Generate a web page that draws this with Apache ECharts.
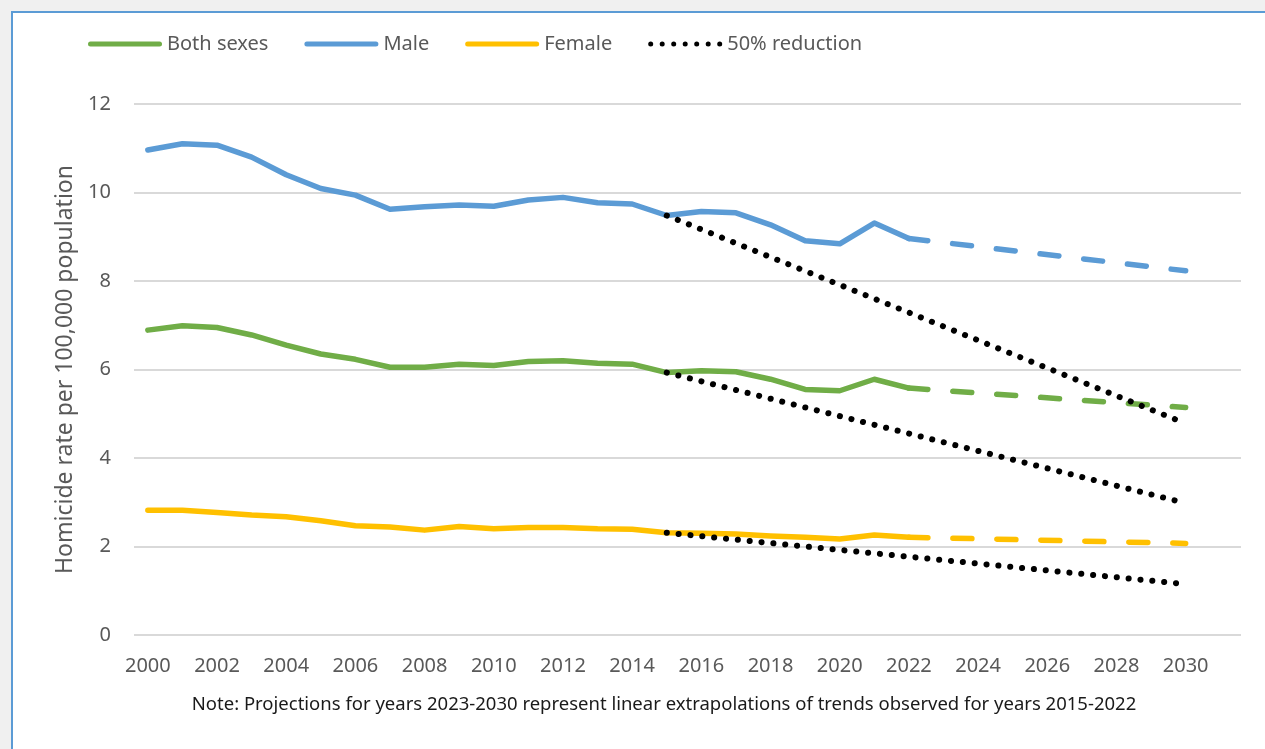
<!DOCTYPE html>
<html>
<head>
<meta charset="utf-8">
<script src="https://cdn.jsdelivr.net/npm/echarts@6/dist/echarts.min.js"></script>
<style>
  html, body { margin: 0; padding: 0; background: #f0f0f0; }
  #chart { width: 1265px; height: 749px; }
</style>
</head>
<body>
<div id="chart"></div>
<script>
// observed years and rates (per 100,000)
let years = [2000, 2001, 2002, 2003, 2004, 2005, 2006, 2007, 2008, 2009, 2010, 2011,
  2012, 2013, 2014, 2015, 2016, 2017, 2018, 2019, 2020, 2021, 2022]
let bothSexes = [6.89, 6.99, 6.95, 6.78, 6.55, 6.35, 6.23, 6.05, 6.05, 6.12, 6.09, 6.18,
  6.20, 6.14, 6.12, 5.93, 5.97, 5.95, 5.78, 5.55, 5.52, 5.78, 5.58]
let male = [10.96, 11.10, 11.07, 10.80, 10.40, 10.09, 9.94, 9.62, 9.68, 9.72, 9.69, 9.83,
  9.89, 9.77, 9.74, 9.48, 9.57, 9.54, 9.27, 8.91, 8.84, 9.31, 8.96]
let female = [2.82, 2.82, 2.77, 2.71, 2.67, 2.58, 2.47, 2.44, 2.37, 2.45, 2.40, 2.43,
  2.43, 2.40, 2.39, 2.31, 2.30, 2.28, 2.24, 2.21, 2.17, 2.26, 2.21]

// projections (linear extrapolation 2022 -> 2030)
let projYears = [2022, 2030]
let bothProj = [5.58, 5.14]
let maleProj = [8.96, 8.23]
let femaleProj = [2.21, 2.07]

// 50% reduction targets (2015 -> 2030)
let targetYears = [2015, 2030]
let bothTarget = [5.93, 2.98]
let maleTarget = [9.48, 4.78]
let femaleTarget = [2.31, 1.15]

let tickYears = [2000, 2002, 2004, 2006, 2008, 2010, 2012, 2014, 2016, 2018, 2020, 2022,
  2024, 2026, 2028, 2030]
let yTicks = { min: 0, max: 12, interval: 2 }

let green = '#70AD47'
let blue = '#5B9BD5'
let yellow = '#FFC000'
let font = 'Noto Sans'
let textColor = '#595959'

// legend icons: rounded bar and a row of 7 dots (74 x 5 box)
let barIcon = 'path://M2.5,0 L71.5,0 A2.5,2.5 0 0,1 71.5,5 L2.5,5 A2.5,2.5 0 0,1 2.5,0 Z'
let dotIcon = 'path://' + [0, 1, 2, 3, 4, 5, 6].map(function (k) {
  let cx = 2.5 + k * 11.5
  return 'M' + (cx - 2.5) + ',2.5 A2.5,2.5 0 1,0 ' + (cx + 2.5) + ',2.5 A2.5,2.5 0 1,0 ' + (cx - 2.5) + ',2.5 Z'
}).join(' ')

function pairs (xs, ys) {
  return xs.map(function (x, i) { return [x, ys[i]] })
}

function solid (name, color, xs, ys) {
  return {
    name: name, type: 'line', data: pairs(xs, ys), showSymbol: false, symbol: 'none',
    lineStyle: { color: color, width: 5.5, cap: 'round', join: 'round' },
    itemStyle: { color: color }, silent: true
  }
}

function dashed (name, color, xs, ys) {
  let s = solid(name, color, xs, ys)
  s.lineStyle.type = [19, 25]
  return s
}

function dotted (xs, ys) {
  let s = solid('50% reduction', '#000', xs, ys)
  s.lineStyle.type = [0.1, 11.8]
  s.lineStyle.width = 6
  s.z = 5
  return s
}

let chart = echarts.init(document.getElementById('chart'))
chart.setOption({
  backgroundColor: '#f0f0f0',
  animation: false,
  textStyle: { fontFamily: font },
  graphic: [
    {
      type: 'rect', z: -10, silent: true,
      shape: { x: 12, y: 12, width: 1300, height: 800 },
      style: { fill: '#fff', stroke: blue, lineWidth: 2 }
    },
    {
      type: 'text', x: 664, y: 705, silent: true,
      style: {
        text: 'Note: Projections for years 2023-2030 represent linear extrapolations of trends observed for years 2015-2022',
        fill: '#1a1a1a', font: '18.5px "Noto Sans"', align: 'center', verticalAlign: 'middle'
      }
    }
  ],
  legend: {
    left: 83, top: 29,
    itemWidth: 74, itemHeight: 5, itemGap: 36,
    data: [
      { name: 'Both sexes', icon: barIcon },
      { name: 'Male', icon: barIcon },
      { name: 'Female', icon: barIcon },
      { name: '50% reduction', icon: dotIcon }
    ],
    textStyle: { color: textColor, fontSize: 20, fontFamily: font }
  },
  grid: { left: 134, right: 24, top: 104, bottom: 114, containLabel: false },
  xAxis: {
    type: 'value', min: 1999.6, max: 2031.6,
    axisLine: { show: false }, axisTick: { show: false }, splitLine: { show: false },
    axisLabel: {
      customValues: tickYears, color: textColor, fontSize: 20, margin: 21,
      formatter: function (v) { return String(v) }
    }
  },
  yAxis: {
    type: 'value', min: yTicks.min, max: yTicks.max, interval: yTicks.interval,
    name: 'Homicide rate per 100,000 population',
    nameLocation: 'middle', nameGap: 56,
    nameTextStyle: { color: textColor, fontSize: 23, fontFamily: font },
    axisLine: { show: false }, axisTick: { show: false },
    axisLabel: { color: textColor, fontSize: 20, margin: 23 },
    splitLine: { lineStyle: { color: '#D9D9D9', width: 2 } }
  },
  series: [
    solid('Both sexes', green, years, bothSexes),
    solid('Male', blue, years, male),
    solid('Female', yellow, years, female),
    dashed('Both sexes', green, projYears, bothProj),
    dashed('Male', blue, projYears, maleProj),
    dashed('Female', yellow, projYears, femaleProj),
    dotted(targetYears, maleTarget),
    dotted(targetYears, bothTarget),
    dotted(targetYears, femaleTarget)
  ]
})

window.addEventListener('resize', function () { chart.resize() }, false)
</script>
</body>
</html>
